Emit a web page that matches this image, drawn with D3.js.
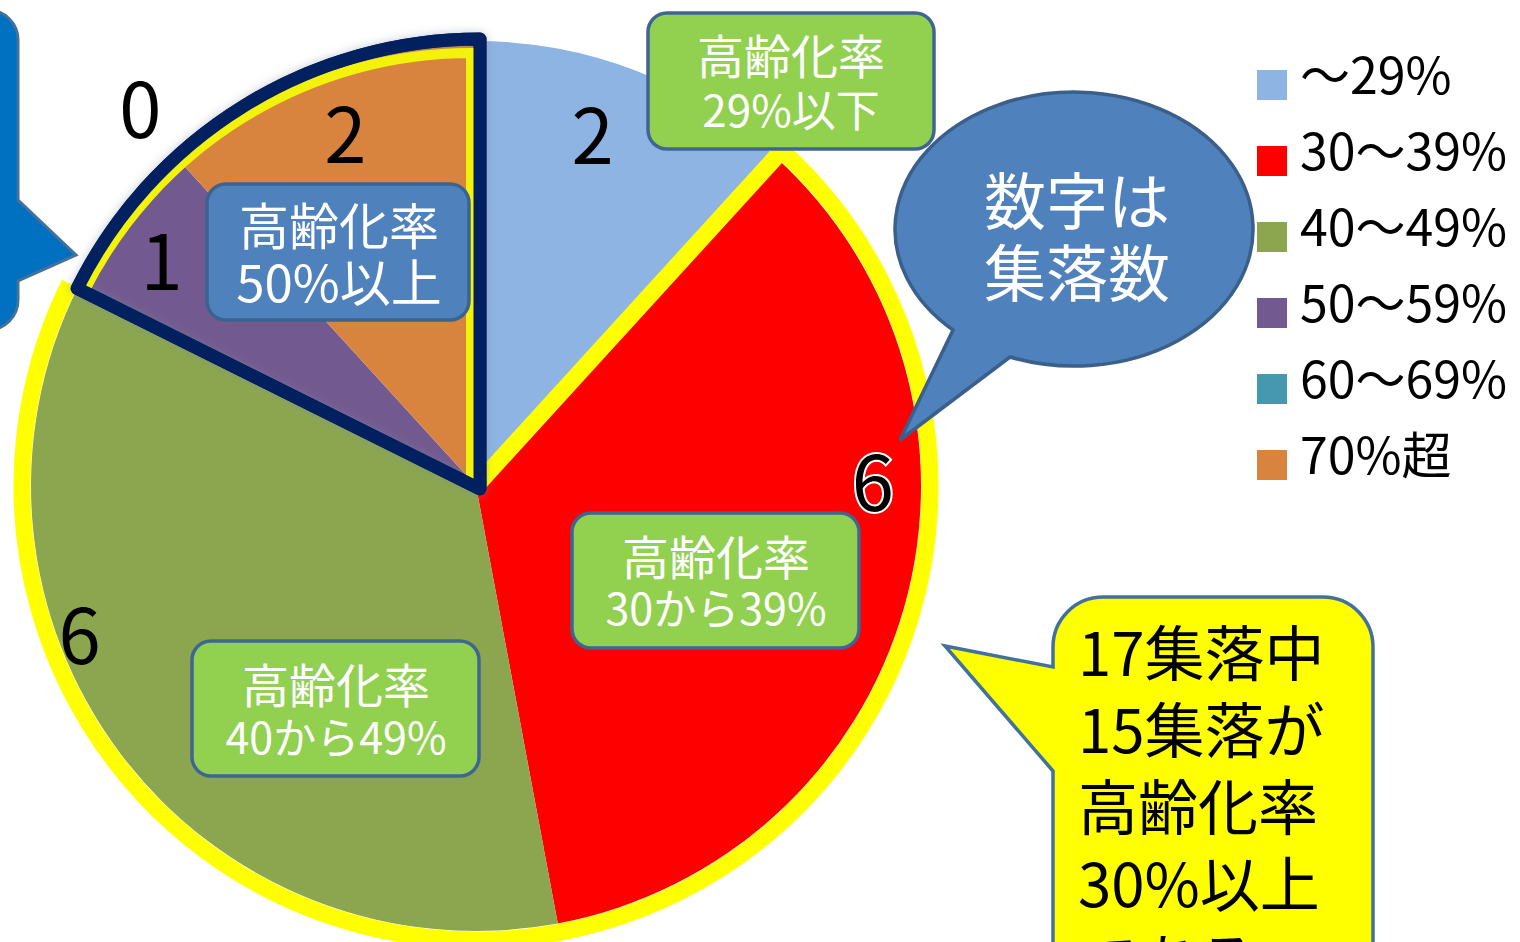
<!DOCTYPE html>
<html lang="ja">
<head>
<meta charset="UTF-8">
<title>高齢化率別 集落数</title>
<script src="https://cdn.jsdelivr.net/npm/d3@7"></script>
<style>
  html, body { margin: 0; padding: 0; background: #fff; overflow: hidden; }
  svg { display: block; }
  text { font-family: "Noto Sans CJK JP", "Noto Sans", sans-serif; }
</style>
</head>
<body>
<script>
// data (number of villages per ageing-rate band)
const categories = ["〜29%", "30〜39%", "40〜49%", "50〜59%", "60〜69%", "70%超"];
const counts = [2, 6, 6, 1, 0, 2];
const sliceColors = ["#8db4e2", "#ff0000", "#8ba64f", "#72598f", "#4598b0", "#d9843e"];

// annotation texts
const boxLines = [
  ["高齢化率", "29%以下"],
  ["高齢化率", "50%以上"],
  ["高齢化率", "30から39%"],
  ["高齢化率", "40から49%"]
];
const bubbleLines = ["数字は", "集落数"];
const noteLines = ["17集落中", "15集落が", "高齢化率", "30%以上", "である。"];

// layout only (how the slice numbers were nudged in the original)
const labelShift = [-3, -17, 17, -1, 1, 1];      // degrees from slice middle
const labelRadius = [374, 397, 422, 389, 508, 379];

const W = 1520, H = 942;
const cx = 476, cy = 486, R = 445;

const svg = d3.select("body").append("svg")
  .attr("width", W).attr("height", H);

const defs = svg.append("defs");
const glow = defs.append("filter").attr("id", "glow")
  .attr("x", "-20%").attr("y", "-20%").attr("width", "140%").attr("height", "140%");
glow.append("feDropShadow").attr("dx", 0).attr("dy", 0)
  .attr("stdDeviation", 5).attr("flood-color", "#7f8a9c").attr("flood-opacity", 0.45);

const pie = d3.pie().sort(null).value(d => d);
const arcs = pie(counts);
const arc = d3.arc().innerRadius(0).outerRadius(R);

const g = svg.append("g").attr("transform", `translate(${cx},${cy})`);

g.selectAll("path.slice")
  .data(arcs)
  .enter()
  .append("path")
  .attr("class", "slice")
  .attr("d", arc)
  .attr("fill", (d, i) => sliceColors[i]);

// helper: point at pie angle (0 = top, clockwise)
function pt(a, r) {
  return [r * Math.sin(a), -r * Math.cos(a)];
}

// rounded text boxes
function roundBox(x, y, w, h, fill, stroke, lines, size1, size2, base1, base2, cxText) {
  svg.append("rect")
    .attr("x", x).attr("y", y).attr("width", w).attr("height", h)
    .attr("rx", 19).attr("ry", 19)
    .attr("fill", fill).attr("stroke", stroke).attr("stroke-width", 3.5);
  svg.append("text")
    .attr("x", cxText).attr("y", base1)
    .attr("text-anchor", "middle").attr("font-size", size1).attr("fill", "#fff")
    .text(lines[0]);
  svg.append("text")
    .attr("x", cxText).attr("y", base2)
    .attr("text-anchor", "middle").attr("font-size", size2).attr("fill", "#fff")
    .text(lines[1]);
}

roundBox(207, 184, 262, 136, "#4f81bd", "#3b6390", boxLines[1], 50, 51, 245, 302, 339);
roundBox(572, 513, 287, 135, "#92d050", "#3f6593", boxLines[2], 47, 43, 575, 625, 716);
roundBox(192, 641, 287, 135, "#92d050", "#3f6593", boxLines[3], 47, 43, 703, 754, 336);

// yellow outline around the 30-49% part
const a30 = arcs[1].startAngle, a50 = arcs[3].startAngle, aEnd = arcs[5].endAngle;
const ry = R + 9;
const yp = d3.path();
yp.moveTo(0, 0);
yp.lineTo(...pt(a30, ry));
yp.arc(0, 0, ry, a30 - Math.PI / 2, a50 - Math.PI / 2, false);
g.append("path")
  .attr("d", yp.toString())
  .attr("fill", "none").attr("stroke", "#ffff00").attr("stroke-width", 17)
  .attr("stroke-linejoin", "round");

// 50%+ group: navy frame with yellow lining
const navyArc = d3.arc().innerRadius(0).outerRadius(R + 5);
g.append("path")
  .attr("transform", "translate(4,3)")
  .attr("d", navyArc({ startAngle: a50, endAngle: aEnd }))
  .attr("fill", "none").attr("stroke", "#002060").attr("stroke-width", 13)
  .attr("stroke-linejoin", "round")
  .attr("filter", "url(#glow)");

const yi = d3.path();
const ri = R - 12;
yi.moveTo(...pt(a50, ri));
yi.arc(0, 0, ri, a50 - Math.PI / 2, aEnd - Math.PI / 2, false);
yi.lineTo(0, 0);
g.append("path")
  .attr("transform", "translate(-5,0)")
  .attr("d", yi.toString())
  .attr("fill", "none").attr("stroke", "#f2f20a").attr("stroke-width", 10);

// navy again on top of the lining
g.append("path")
  .attr("transform", "translate(4,3)")
  .attr("d", navyArc({ startAngle: a50, endAngle: aEnd }))
  .attr("fill", "none").attr("stroke", "#002060").attr("stroke-width", 13)
  .attr("stroke-linejoin", "round");

// slice numbers
g.selectAll("text.num")
  .data(arcs)
  .enter()
  .append("text")
  .attr("class", "num")
  .attr("transform", (d, i) => {
    const a = (d.startAngle + d.endAngle) / 2 + labelShift[i] * Math.PI / 180;
    const p = pt(a, labelRadius[i]);
    return `translate(${p[0]},${p[1]})`;
  })
  .attr("text-anchor", "middle")
  .attr("dominant-baseline", "central")
  .attr("font-size", 76)
  .attr("fill", "#000")
  .attr("stroke", (d, i) => i === 1 ? "#fff" : "none")
  .attr("stroke-width", 4)
  .attr("paint-order", "stroke")
  .text(d => d.data);

// top green box (29% or less)
roundBox(648, 13, 286, 136, "#92d050", "#3f6593", boxLines[0], 47, 44, 74, 127, 791);

// blue callout on the far left
const lb = d3.path();
lb.moveTo(-60, 10);
lb.lineTo(-12, 10);
lb.arcTo(18, 10, 18, 40, 30);
lb.lineTo(18, 200);
lb.lineTo(76, 255);
lb.lineTo(18, 281);
lb.lineTo(18, 300);
lb.arcTo(18, 330, -12, 330, 30);
lb.lineTo(-60, 330);
lb.closePath();
svg.append("path")
  .attr("d", lb.toString())
  .attr("fill", "#0070c0").attr("stroke", "#41719c").attr("stroke-width", 3);

// speech bubble "数字は集落数"
svg.append("path")
  .attr("d", "M953,330 A179,137 0 1 1 1010,357 L900,440 Z")
  .attr("fill", "#4f81bd").attr("stroke", "#3a5f8b").attr("stroke-width", 3.5)
  .attr("stroke-linejoin", "miter");
svg.selectAll("text.bubble")
  .data(bubbleLines)
  .enter()
  .append("text")
  .attr("class", "bubble")
  .attr("x", 1077)
  .attr("y", (d, i) => 225 + i * 72)
  .attr("text-anchor", "middle")
  .attr("font-size", 62)
  .attr("fill", "#fff")
  .text(d => d);

// yellow note callout
const nx0 = 1053, ny0 = 597, nx1 = 1373, nr = 50;
const np = d3.path();
np.moveTo(nx0, ny0 + nr);
np.arcTo(nx0, ny0, nx0 + nr, ny0, nr);
np.lineTo(nx1 - nr, ny0);
np.arcTo(nx1, ny0, nx1, ny0 + nr, nr);
np.lineTo(nx1, 990);
np.lineTo(nx0, 990);
np.lineTo(nx0, 771);
np.lineTo(945, 646);
np.lineTo(nx0, 667);
np.closePath();
svg.append("path")
  .attr("d", np.toString())
  .attr("fill", "#ffff00").attr("stroke", "#41719c").attr("stroke-width", 3.5);
svg.selectAll("text.note")
  .data(noteLines)
  .enter()
  .append("text")
  .attr("class", "note")
  .attr("x", 1078)
  .attr("y", (d, i) => 676 + i * 77)
  .attr("font-size", 60)
  .attr("fill", "#000")
  .text(d => d);

// legend
const legend = svg.append("g").attr("transform", "translate(1257,70)");
const rows = legend.selectAll("g")
  .data(categories)
  .enter()
  .append("g")
  .attr("transform", (d, i) => `translate(0,${i * 76})`);
rows.append("rect")
  .attr("width", 30).attr("height", 30)
  .attr("fill", (d, i) => sliceColors[i]);
rows.append("text")
  .attr("x", 43).attr("y", 24)
  .attr("font-size", 50)
  .attr("fill", "#000")
  .text(d => d);
</script>
</body>
</html>
